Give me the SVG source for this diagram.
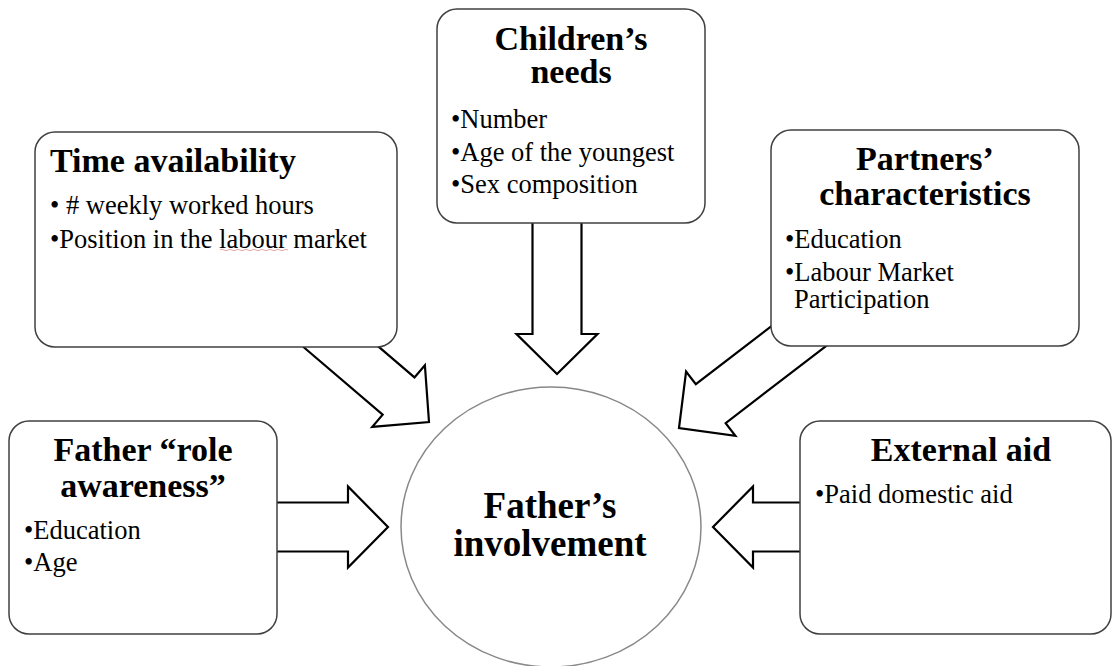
<svg xmlns="http://www.w3.org/2000/svg" width="1114" height="666" viewBox="0 0 1114 666">
<style>
.box{fill:#fff;stroke:#404040;stroke-width:1.5}
.arrow{fill:#fff;stroke:#000;stroke-width:2.2;stroke-linejoin:miter}
.title{font-family:"Liberation Serif","Times New Roman",serif;font-weight:bold;font-size:34px;fill:#000}
.ctitle{font-family:"Liberation Serif","Times New Roman",serif;font-weight:bold;font-size:37px;fill:#000;text-anchor:middle}
.item{font-family:"Liberation Serif","Times New Roman",serif;font-size:26.5px;fill:#000}
.mid{text-anchor:middle}
</style>
<rect width="1114" height="666" fill="#fff"/>
<g id="connectors">
<path class="arrow" transform="translate(429,422) rotate(40.5)" d="M -160,-24.5 H -40 V -40.5 L 0,0 L -40,40.5 V 24.5 H -160 Z"/>
<path class="arrow" transform="translate(557,374) rotate(90)" d="M -170,-24.5 H -40 V -40.5 L 0,0 L -40,40.5 V 24.5 H -170 Z"/>
<path class="arrow" transform="translate(679,428) rotate(142.5)" d="M -185,-24.5 H -40 V -40.5 L 0,0 L -40,40.5 V 24.5 H -185 Z"/>
<path class="arrow" transform="translate(388,527)" d="M -115,-24.5 H -40 V -40.5 L 0,0 L -40,40.5 V 24.5 H -115 Z"/>
<path class="arrow" transform="translate(713,527) rotate(180)" d="M -92,-24.5 H -40 V -40.5 L 0,0 L -40,40.5 V 24.5 H -92 Z"/>
</g>
<g id="time-availability">
<rect class="box" x="35" y="132" width="362" height="215" rx="20"/>
<text class="title" x="50" y="172">Time availability</text>
<text class="item" x="50" y="214">• # weekly worked hours</text>
<text class="item" x="50" y="248">•Position in the labour market</text>
<path d="M220,250 q2,-1.5 4,0 t4,0 t4,0 t4,0 t4,0 t4,0 t4,0 t4,0 t4,0 t4,0 t4,0 t4,0 t4,0 t4,0 t4,0 t4,0 t4,0" fill="none" stroke="#e8a8a8" stroke-width="1"/>
</g>
<g id="childrens-needs">
<rect class="box" x="437" y="9" width="268" height="214" rx="20"/>
<text class="title mid" x="571" y="50">Children’s<tspan x="571" dy="33">needs</tspan></text>
<text class="item" x="451" y="128">•Number</text>
<text class="item" x="451" y="160.5">•Age of the youngest</text>
<text class="item" x="451" y="193">•Sex composition</text>
</g>
<g id="partners-characteristics">
<rect class="box" x="771" y="130" width="308" height="216" rx="20"/>
<text class="title mid" x="925" y="170">Partners’<tspan x="925" dy="35">characteristics</tspan></text>
<text class="item" x="785" y="248">•Education</text>
<text class="item" x="785" y="281">•Labour Market<tspan x="794" dy="27">Participation</tspan></text>
</g>
<g id="father-role-awareness">
<rect class="box" x="9" y="421" width="268" height="213" rx="20"/>
<text class="title mid" x="143" y="461">Father “role<tspan x="143" dy="36">awareness”</tspan></text>
<text class="item" x="24" y="539">•Education</text>
<text class="item" x="24" y="571">•Age</text>
</g>
<g id="external-aid">
<rect class="box" x="800" y="421" width="311" height="213" rx="20"/>
<text class="title mid" x="961" y="461">External aid</text>
<text class="item" x="815" y="503">•Paid domestic aid</text>
</g>
<g id="fathers-involvement">
<ellipse cx="551" cy="527" rx="150" ry="140" fill="#fff" stroke="#888" stroke-width="1.5"/>
<text class="ctitle" x="550" y="518">Father’s<tspan x="550" dy="38">involvement</tspan></text>
</g>
</svg>
